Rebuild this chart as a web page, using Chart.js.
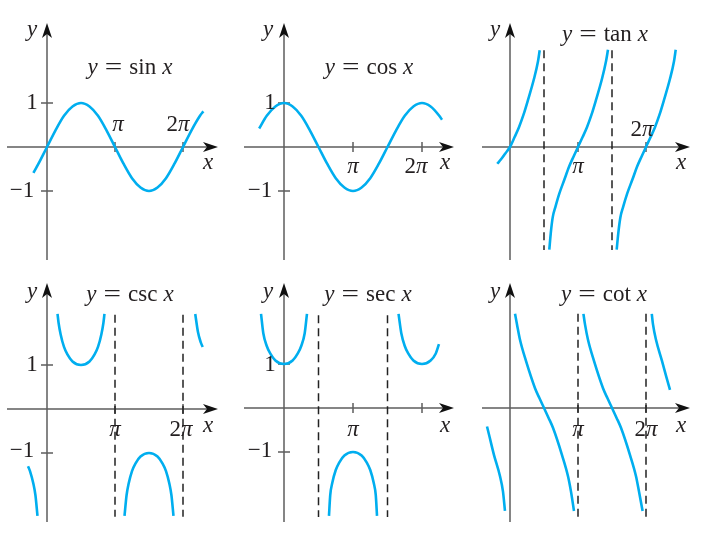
<!DOCTYPE html>
<html>
<head>
<meta charset="utf-8">
<script src="https://cdn.jsdelivr.net/npm/chart.js@4.4.0/dist/chart.umd.min.js"></script>
<style>
html, body { margin: 0; padding: 0; background: #fff; }
#wrap { position: relative; width: 708px; height: 535px; }
#wrap canvas { position: absolute; }
</style>
</head>
<body>
<div id="wrap"></div>
<script>
// x is in multiples of pi, y in plot units
const sinX = [-0.2, -0.125, 0, 0.125, 0.25, 0.375, 0.5, 0.625, 0.75, 0.875, 1, 1.125, 1.25, 1.375, 1.5, 1.625, 1.75, 1.875, 2, 2.125, 2.25, 2.3]
const sinY = [-0.59, -0.38, 0, 0.38, 0.71, 0.92, 1, 0.92, 0.71, 0.38, 0, -0.38, -0.71, -0.92, -1, -0.92, -0.71, -0.38, 0, 0.38, 0.71, 0.81]

const cosX = [-0.36, -0.25, -0.125, 0, 0.125, 0.25, 0.375, 0.5, 0.625, 0.75, 0.875, 1, 1.125, 1.25, 1.375, 1.5, 1.625, 1.75, 1.875, 2, 2.125, 2.25, 2.29]
const cosY = [0.42, 0.71, 0.92, 1, 0.92, 0.71, 0.38, 0, -0.38, -0.71, -0.92, -1, -0.92, -0.71, -0.38, 0, 0.38, 0.71, 0.92, 1, 0.92, 0.71, 0.62]

const tanX = [
    [-0.187, -0.132, -0.066, 0, 0.066, 0.132, 0.2, 0.265, 0.353, 0.412, 0.437],
    [0.578, 0.6, 0.628, 0.67, 0.725, 0.8, 0.868, 0.934, 1, 1.066, 1.132, 1.2, 1.265, 1.353, 1.412, 1.441],
    [1.569, 1.593, 1.623, 1.666, 1.723, 1.8, 1.868, 1.934, 2, 2.066, 2.132, 2.2, 2.265, 2.353, 2.412, 2.437]
]
const tanY = [
    [-0.38, -0.28, -0.14, 0, 0.22, 0.45, 0.74, 1.07, 1.55, 1.95, 2.2],
    [-2.33, -1.95, -1.6, -1.35, -1.06, -0.74, -0.45, -0.22, 0, 0.22, 0.45, 0.74, 1.07, 1.55, 1.95, 2.21],
    [-2.33, -1.95, -1.6, -1.35, -1.06, -0.74, -0.45, -0.22, 0, 0.22, 0.45, 0.74, 1.07, 1.55, 1.95, 2.21]
]

const cscX = [
    [-0.279, -0.25, -0.2, -0.17, -0.14],
    [0.155, 0.17, 0.2, 0.25, 0.3, 0.375, 0.5, 0.625, 0.7, 0.75, 0.8, 0.83, 0.845],
    [1.14, 1.17, 1.2, 1.25, 1.3, 1.375, 1.5, 1.625, 1.7, 1.75, 1.8, 1.83, 1.86],
    [2.18, 2.22, 2.26, 2.29]
]
const cscY = [
    [-1.30, -1.41, -1.70, -1.96, -2.43],
    [2.16, 1.96, 1.70, 1.41, 1.24, 1.08, 1, 1.08, 1.24, 1.41, 1.70, 1.96, 2.16],
    [-2.43, -1.96, -1.70, -1.41, -1.24, -1.08, -1, -1.08, -1.24, -1.41, -1.70, -1.96, -2.43],
    [2.16, 1.75, 1.52, 1.41]
]

const secX = [
    [-0.333, -0.3, -0.25, -0.2, -0.125, 0, 0.125, 0.2, 0.25, 0.3, 0.333],
    [0.652, 0.67, 0.7, 0.75, 0.8, 0.875, 1, 1.125, 1.2, 1.25, 1.3, 1.33, 1.348],
    [1.66, 1.7, 1.75, 1.8, 1.875, 2, 2.125, 2.2, 2.246]
]
const secY = [
    [2.14, 1.70, 1.41, 1.24, 1.08, 1, 1.08, 1.24, 1.41, 1.70, 2.14],
    [-2.45, -1.98, -1.70, -1.41, -1.24, -1.08, -1, -1.08, -1.24, -1.41, -1.70, -1.98, -2.45],
    [2.14, 1.70, 1.41, 1.24, 1.08, 1, 1.08, 1.24, 1.45]
]

const cotX = [
    [-0.338, -0.3, -0.235, -0.147, -0.103, -0.074],
    [0.074, 0.103, 0.147, 0.235, 0.368, 0.434, 0.5, 0.566, 0.632, 0.765, 0.853, 0.897, 0.941],
    [1.08, 1.103, 1.147, 1.235, 1.368, 1.434, 1.5, 1.566, 1.632, 1.765, 1.853, 1.897, 1.95],
    [2.085, 2.103, 2.147, 2.235, 2.3, 2.353]
]
const cotY = [
    [-0.42, -0.66, -1.07, -1.55, -1.9, -2.34],
    [2.14, 1.9, 1.55, 1.07, 0.45, 0.22, 0, -0.22, -0.45, -1.07, -1.55, -1.9, -2.34],
    [2.14, 1.9, 1.55, 1.07, 0.45, 0.22, 0, -0.22, -0.45, -1.07, -1.55, -1.9, -2.34],
    [2.14, 1.9, 1.55, 1.07, 0.7, 0.41]
]

// asymptotes (x in multiples of pi) and their top / bottom ends
const tanAsym = [0.5, 1.5], tanAsymEnds = [2.2, -2.34]
const cscAsym = [1, 2], cscAsymEnds = [2.14, -2.45]
const secAsym = [0.5, 1.5], secAsymEnds = [2.11, -2.48]
const cotAsym = [1, 2], cotAsymEnds = [2.14, -2.52]

const xTicks = [1, 2]
const yTicks = [1, -1]

const CURVE = '#00aeef'
const INK = '#231f20'
const FONT = '"Liberation Serif", "Times New Roman", serif'

// text runs: [text, italic, horizontal stretch]; a number is a gap in px
const Y = ['y', 1], X = ['x', 1], PI = ['\u03c0', 1]
const title = (fn) => [Y, 7, ['=', 0, 1.35], 7, [fn, 0], 6, X]

// panel layout: origin pixel, pixels per pi, pixels per unit, axis extents, labels
const panels = [
    { left: 0, top: 0, w: 236, h: 267, ox: 47, oy: 147, pi: 68, unit: 44, ax: [7, 218], ay: [23, 260],
      xs: [sinX], ys: [sinY], asym: [], ends: null, yt: yTicks,
      labels: [
          { t: [Y], x: 32, y: 30 },
          { t: title('sin'), x: 130, y: 68 },
          { t: [['1', 0]], x: 32, y: 103 },
          { t: [['\u22121', 0]], x: 22, y: 191 },
          { t: [PI], x: 118, y: 125 },
          { t: [['2', 0], PI], x: 178, y: 125 },
          { t: [X], x: 208, y: 163 }
      ] },
    { left: 236, top: 0, w: 236, h: 267, ox: 48, oy: 147, pi: 69, unit: 44, ax: [8, 218], ay: [23, 260],
      xs: [cosX], ys: [cosY], asym: [], ends: null, yt: yTicks,
      labels: [
          { t: [Y], x: 32, y: 30 },
          { t: title('cos'), x: 133, y: 68 },
          { t: [['1', 0]], x: 34, y: 103 },
          { t: [['\u22121', 0]], x: 24, y: 191 },
          { t: [PI], x: 117, y: 167 },
          { t: [['2', 0], PI], x: 180, y: 167 },
          { t: [X], x: 209, y: 163 }
      ] },
    { left: 472, top: 0, w: 236, h: 267, ox: 38, oy: 147, pi: 68, unit: 44, ax: [10, 218], ay: [23, 260],
      xs: tanX, ys: tanY, asym: tanAsym, ends: tanAsymEnds, yt: [],
      labels: [
          { t: [Y], x: 23, y: 30 },
          { t: title('tan'), x: 133, y: 35 },
          { t: [PI], x: 106, y: 167 },
          { t: [['2', 0], PI], x: 170, y: 130 },
          { t: [X], x: 209, y: 163 }
      ] },
    { left: 0, top: 267, w: 236, h: 268, ox: 47, oy: 142, pi: 68, unit: 44, ax: [7, 218], ay: [16, 255],
      xs: cscX, ys: cscY, asym: cscAsym, ends: cscAsymEnds, yt: yTicks,
      labels: [
          { t: [Y], x: 32, y: 25 },
          { t: title('csc'), x: 130, y: 28 },
          { t: [['1', 0]], x: 32, y: 98 },
          { t: [['\u22121', 0]], x: 22, y: 184 },
          { t: [PI], x: 115, y: 163 },
          { t: [['2', 0], PI], x: 181, y: 163 },
          { t: [X], x: 208, y: 159 }
      ] },
    { left: 236, top: 267, w: 236, h: 268, ox: 48, oy: 141, pi: 69, unit: 44, ax: [8, 218], ay: [16, 255],
      xs: secX, ys: secY, asym: secAsym, ends: secAsymEnds, yt: yTicks,
      labels: [
          { t: [Y], x: 32, y: 25 },
          { t: title('sec'), x: 132, y: 28 },
          { t: [['1', 0]], x: 34, y: 98 },
          { t: [['\u22121', 0]], x: 24, y: 184 },
          { t: [PI], x: 117, y: 163 },
          { t: [X], x: 209, y: 159 }
      ] },
    { left: 472, top: 267, w: 236, h: 268, ox: 38, oy: 141, pi: 68, unit: 44, ax: [10, 218], ay: [16, 255],
      xs: cotX, ys: cotY, asym: cotAsym, ends: cotAsymEnds, yt: [],
      labels: [
          { t: [Y], x: 23, y: 25 },
          { t: title('cot'), x: 132, y: 28 },
          { t: [PI], x: 106, y: 163 },
          { t: [['2', 0], PI], x: 174, y: 163 },
          { t: [X], x: 209, y: 159 }
      ] }
]

const drawRun = (ctx, parts, cx, cy, size) => {
    const widths = parts.map(p => {
        if (typeof p === 'number') return p
        ctx.font = (p[1] ? 'italic ' : '') + size + 'px ' + FONT
        return ctx.measureText(p[0]).width * (p[2] || 1)
    })
    let x = cx - widths.reduce((a, b) => a + b, 0) / 2
    ctx.textAlign = 'left'
    ctx.textBaseline = 'middle'
    parts.forEach((p, i) => {
        if (typeof p !== 'number') {
            ctx.font = (p[1] ? 'italic ' : '') + size + 'px ' + FONT
            ctx.save()
            ctx.translate(x, cy)
            ctx.scale(p[2] || 1, 1)
            ctx.fillText(p[0], 0, 0)
            ctx.restore()
        }
        x += widths[i]
    })
}

const arrow = (ctx, tx, ty, dir) => {
    // tip at (tx, ty), notched back
    const L = 15, H = 5, N = 4
    ctx.beginPath()
    if (dir === 'right') {
        ctx.moveTo(tx, ty); ctx.lineTo(tx - L, ty - H); ctx.lineTo(tx - L + N, ty); ctx.lineTo(tx - L, ty + H)
    } else {
        ctx.moveTo(tx, ty); ctx.lineTo(tx - H, ty + L); ctx.lineTo(tx, ty + L - N); ctx.lineTo(tx + H, ty + L)
    }
    ctx.closePath()
    ctx.fill()
}

const makeDecor = (p) => ({
    id: 'decor',
    beforeDatasetsDraw(chart) {
        const ctx = chart.ctx, sx = chart.scales.x, sy = chart.scales.y
        const x0 = sx.getPixelForValue(0), y0 = sy.getPixelForValue(0)
        ctx.save()
        ctx.strokeStyle = '#5e5e5e'
        ctx.lineWidth = 1.5
        ctx.beginPath()
        ctx.moveTo(p.ax[0], y0); ctx.lineTo(p.ax[1] - 10, y0)
        ctx.moveTo(x0, p.ay[1]); ctx.lineTo(x0, p.ay[0] + 10)
        xTicks.forEach(t => {
            const px = sx.getPixelForValue(t)
            ctx.moveTo(px, y0 - 5); ctx.lineTo(px, y0 + 5)
        })
        p.yt.forEach(t => {
            const py = sy.getPixelForValue(t)
            ctx.moveTo(x0 - 6, py); ctx.lineTo(x0 + 6, py)
        })
        ctx.stroke()
        ctx.fillStyle = '#111'
        arrow(ctx, p.ax[1], y0, 'right')
        arrow(ctx, x0, p.ay[0], 'up')
        ctx.restore()
    },
    afterDatasetsDraw(chart) {
        const ctx = chart.ctx
        ctx.save()
        ctx.fillStyle = INK
        p.labels.forEach(l => drawRun(ctx, l.t, l.x, l.y, 23))
        ctx.restore()
    }
})

const wrap = document.getElementById('wrap')

panels.forEach(p => {
    const cv = document.createElement('canvas')
    cv.width = p.w
    cv.height = p.h
    cv.style.left = p.left + 'px'
    cv.style.top = p.top + 'px'
    wrap.appendChild(cv)

    const datasets = p.xs.map((xa, i) => ({
        data: xa.map((x, j) => ({ x: x, y: p.ys[i][j] })),
        borderColor: CURVE,
        borderWidth: 2.6,
        pointRadius: 0,
        fill: false,
        cubicInterpolationMode: 'monotone'
    }))
    p.asym.forEach(a => {
        datasets.push({
            data: [{ x: a, y: p.ends[0] }, { x: a, y: p.ends[1] }],
            borderColor: '#222',
            borderWidth: 1.5,
            borderDash: [8, 5],
            pointRadius: 0,
            fill: false
        })
    })

    new Chart(cv, {
        type: 'line',
        data: { datasets: datasets },
        options: {
            responsive: false,
            animation: false,
            devicePixelRatio: 1,
            events: [],
            layout: { padding: 0 },
            plugins: { legend: { display: false }, tooltip: { enabled: false } },
            scales: {
                x: { type: 'linear', display: false, min: -p.ox / p.pi, max: (p.w - p.ox) / p.pi },
                y: { type: 'linear', display: false, min: -(p.h - p.oy) / p.unit, max: p.oy / p.unit }
            }
        },
        plugins: [makeDecor(p)]
    })
})
</script>
</body>
</html>
